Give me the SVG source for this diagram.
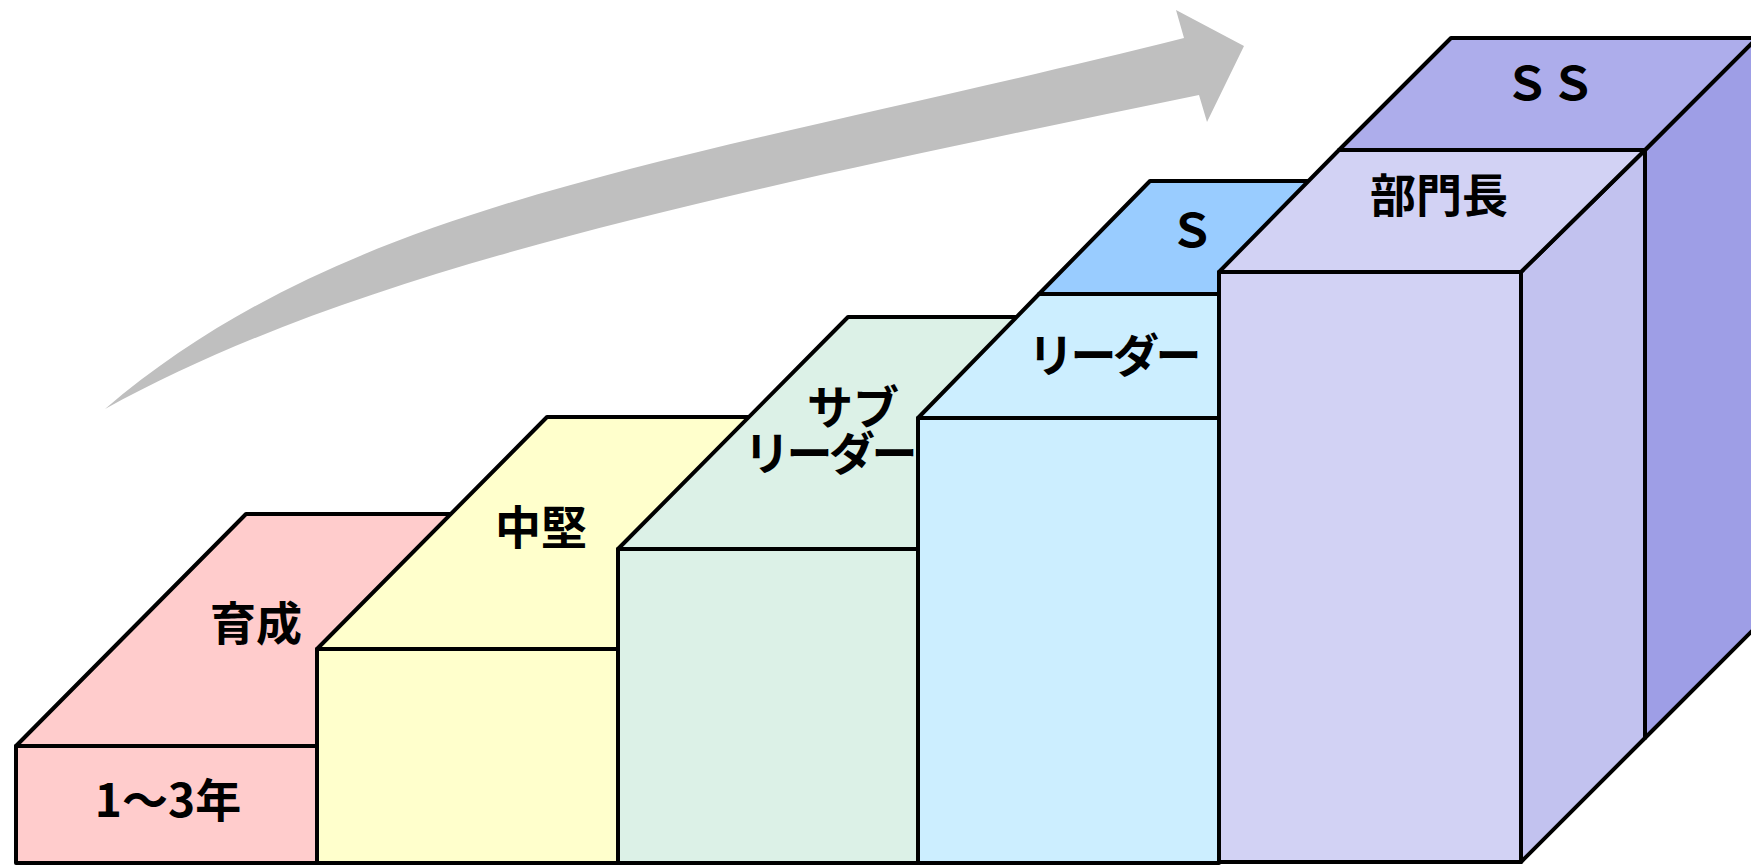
<svg xmlns="http://www.w3.org/2000/svg" width="1751" height="865" viewBox="0 0 1751 865">
<style>
.e{stroke:#000;stroke-width:4;stroke-linejoin:round}
.t{font-family:"Noto Sans CJK JP","Noto Sans",sans-serif;font-weight:bold;font-size:46px;fill:#000;text-anchor:middle}
.n{letter-spacing:-3.5px}
</style>
<rect width="1751" height="865" fill="#fff"/>
<g id="connectors">
<path d="M105,409 C355,196 684,163 1184,38 L1176,10 L1244,46 L1207,122 L1199,95 C699,198 355,271 105,409 Z" fill="#bfbfbf"/>
</g>
<g id="step1">
<rect class="e" x="16" y="746" width="301" height="117" fill="#ffcccc"/>
<polygon class="e" points="16,746 246,514 547,514 317,746" fill="#ffcccc"/>
<text class="t" x="256" y="640">育成</text>
<text class="t" x="168" y="817" font-size="48">1～3年</text>
</g>
<g id="step2">
<rect class="e" x="317" y="649" width="301" height="214" fill="#ffffcc"/>
<polygon class="e" points="317,649 547,417 848,417 618,649" fill="#ffffcc"/>
<text class="t" x="541" y="544">中堅</text>
</g>
<g id="step3">
<rect class="e" x="618" y="549" width="300" height="314" fill="#dcf1e7"/>
<polygon class="e" points="618,549 848,317 1148,317 918,549" fill="#dcf1e7"/>
<text class="t"><tspan x="853" y="424">サブ</tspan><tspan class="n" x="829" y="470">リーダー</tspan></text>
</g>
<g id="step4">
<rect class="e" x="918" y="418" width="301" height="445" fill="#cceeff"/>
<polygon class="e" points="1039,294 1150,181 1451,181 1340,294" fill="#99ccff"/>
<polygon class="e" points="918,418 1039,294 1340,294 1219,418" fill="#cceeff"/>
<text class="t n" x="1113" y="372">リーダー</text>
<text class="t" x="1192" y="247">Ｓ</text>
</g>
<g id="step5">
<polygon class="e" points="1645,150 1757,38 1757,626 1645,738" fill="#9e9ee6"/>
<polygon class="e" points="1339,150 1451,38 1757,38 1645,150" fill="#adadeb"/>
<polygon class="e" points="1521,272 1645,150 1645,738 1521,862" fill="#c2c2ef"/>
<rect class="e" x="1219" y="272" width="302" height="590" fill="#d2d2f4"/>
<polygon class="e" points="1219,272 1339,150 1645,150 1521,272" fill="#d2d2f4"/>
<text class="t" x="1550" y="100">ＳＳ</text>
<text class="t" x="1439" y="212">部門長</text>
</g>
</svg>
